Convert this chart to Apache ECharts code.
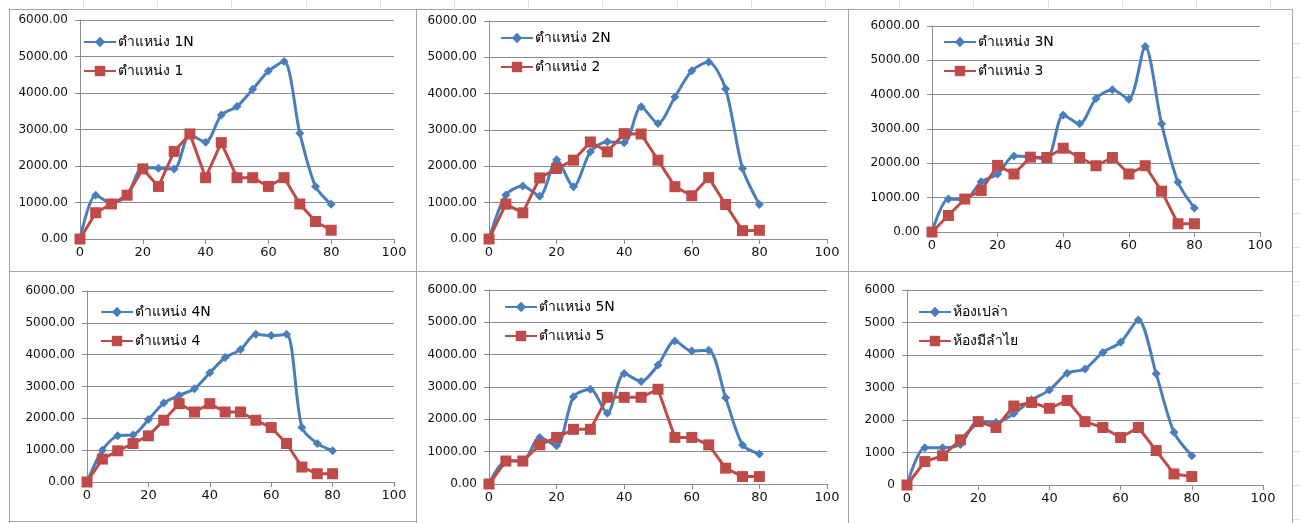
<!DOCTYPE html>
<html>
<head>
<meta charset="utf-8">
<title>ตำแหน่ง 1-5</title>
<script src="https://cdn.jsdelivr.net/npm/echarts@6/dist/echarts.min.js"></script>
<style>
  html, body { margin: 0; padding: 0; background: #fff; }
  #chart { width: 1300px; height: 523px; }
</style>
</head>
<body>
<div id="chart"></div>
<script>
// x positions (same for all six panels)
const xValues = [0, 5, 10, 15, 20, 25, 30, 35, 40, 45, 50, 55, 60, 65, 70, 75, 80];

// panel 1
const pos1N = [0, 1200, 980, 1200, 1960, 1940, 1920, 2860, 2650, 3400, 3630, 4100, 4600, 4860, 2900, 1440, 950];
const pos1 = [0, 720, 960, 1200, 1920, 1440, 2400, 2880, 1680, 2640, 1680, 1680, 1440, 1680, 960, 480, 240];
// panel 2
const pos2N = [0, 1210, 1460, 1180, 2180, 1440, 2400, 2680, 2650, 3640, 3180, 3910, 4630, 4870, 4130, 1940, 950];
const pos2 = [0, 960, 720, 1680, 1940, 2170, 2670, 2400, 2900, 2890, 2170, 1440, 1190, 1690, 950, 230, 240];
// panel 3
const pos3N = [0, 960, 940, 1460, 1690, 2210, 2180, 2130, 3410, 3150, 3890, 4140, 3870, 5400, 3150, 1450, 700];
const pos3 = [0, 480, 960, 1210, 1940, 1690, 2180, 2170, 2440, 2170, 1930, 2170, 1690, 1930, 1190, 240, 240];
// panel 4
const pos4N = [0, 1000, 1450, 1480, 1960, 2480, 2720, 2930, 3430, 3910, 4160, 4640, 4600, 4640, 1710, 1210, 980];
const pos4 = [0, 720, 980, 1210, 1450, 1940, 2460, 2200, 2460, 2200, 2200, 1940, 1710, 1210, 470, 260, 260];
// panel 5
const pos5N = [0, 720, 720, 1440, 1180, 2700, 2930, 2190, 3420, 3170, 3680, 4420, 4110, 4140, 2670, 1210, 930];
const pos5 = [0, 710, 710, 1210, 1440, 1690, 1690, 2680, 2680, 2680, 2930, 1440, 1440, 1210, 490, 230, 230];
// panel 6
const emptyRoom = [0, 1150, 1150, 1250, 1970, 1920, 2200, 2620, 2920, 3440, 3570, 4080, 4390, 5080, 3420, 1620, 900];
const longanRoom = [0, 720, 900, 1390, 1950, 1770, 2430, 2540, 2360, 2600, 1950, 1770, 1460, 1770, 1060, 340, 260];

const blueNames = ['ตำแหน่ง 1N', 'ตำแหน่ง 2N', 'ตำแหน่ง 3N', 'ตำแหน่ง 4N', 'ตำแหน่ง 5N', 'ห้องเปล่า'];
const redNames = ['ตำแหน่ง 1', 'ตำแหน่ง 2', 'ตำแหน่ง 3', 'ตำแหน่ง 4', 'ตำแหน่ง 5', 'ห้องมีลำไย'];
const blueData = [pos1N, pos2N, pos3N, pos4N, pos5N, emptyRoom];
const redData = [pos1, pos2, pos3, pos4, pos5, longanRoom];

const xTicks = { min: 0, max: 100, interval: 20 };
const yTicks = { min: 0, max: 6000, interval: 1000 };

// plot area boxes and legend positions
const panels = [
  { grid: { left: 80, top: 20, width: 314, height: 219 }, legend: { left: 83, top: 35 }, decimals: true },
  { grid: { left: 489, top: 21, width: 338, height: 218 }, legend: { left: 500, top: 31 }, decimals: true },
  { grid: { left: 932, top: 26, width: 328, height: 206 }, legend: { left: 943, top: 35 }, decimals: true },
  { grid: { left: 87, top: 291, width: 307, height: 191 }, legend: { left: 100, top: 305 }, decimals: true },
  { grid: { left: 489, top: 290, width: 338, height: 194 }, legend: { left: 504, top: 300 }, decimals: true },
  { grid: { left: 907, top: 290, width: 356, height: 195 }, legend: { left: 918, top: 305 }, decimals: false }
];

const BLUE = '#4a7ebb';
const RED = '#be4b48';
const GRID_LINE = '#8c8c8c';
const NUM_FONT = '"DejaVu Sans", Verdana, sans-serif';
const FONT = 'Tahoma, "DejaVu Sans", "Noto Sans", sans-serif';

const grids = [], xAxes = [], yAxes = [], series = [], legends = [];

panels.forEach((p, i) => {
  grids.push(Object.assign({ containLabel: false }, p.grid));

  xAxes.push({
    type: 'value',
    gridIndex: i,
    min: xTicks.min,
    max: xTicks.max,
    interval: xTicks.interval,
    axisLine: { show: true, lineStyle: { color: GRID_LINE, width: 1 } },
    axisTick: { show: true, length: 5, lineStyle: { color: GRID_LINE } },
    splitLine: { show: false },
    axisLabel: { color: '#111', fontSize: 13, fontFamily: NUM_FONT, margin: 7 }
  });

  yAxes.push({
    type: 'value',
    gridIndex: i,
    min: yTicks.min,
    max: yTicks.max,
    interval: yTicks.interval,
    axisLine: { show: true, lineStyle: { color: GRID_LINE, width: 1 } },
    axisTick: { show: true, length: 5, lineStyle: { color: GRID_LINE } },
    splitLine: { show: true, lineStyle: { color: GRID_LINE, width: 1 } },
    axisLabel: {
      color: '#111',
      fontSize: 12,
      fontFamily: NUM_FONT,
      margin: 12,
      formatter: p.decimals ? (v => v.toFixed(2)) : (v => String(v))
    }
  });

  series.push({
    name: blueNames[i],
    type: 'line',
    xAxisIndex: i,
    yAxisIndex: i,
    smooth: 0.28,
    symbol: 'diamond',
    symbolSize: 9,
    lineStyle: { color: BLUE, width: 3 },
    itemStyle: { color: BLUE },
    data: xValues.map((x, k) => [x, blueData[i][k]]),
    animation: false
  });

  series.push({
    name: redNames[i],
    type: 'line',
    xAxisIndex: i,
    yAxisIndex: i,
    symbol: 'rect',
    symbolSize: 11,
    lineStyle: { color: RED, width: 3 },
    itemStyle: { color: RED },
    data: xValues.map((x, k) => [x, redData[i][k]]),
    animation: false
  });

  legends.push({
    data: [blueNames[i], redNames[i]],
    orient: 'vertical',
    left: p.legend.left,
    top: p.legend.top,
    padding: 0,
    itemWidth: 32,
    itemHeight: 13,
    itemGap: 15,
    selectedMode: false,
    textStyle: { color: '#000', fontSize: 14, fontFamily: FONT, padding: [0, 0, 0, -3] }
  });
});

// spreadsheet frame lines around the six chart objects
const FRAME = '#a6a6a6';
const CELL = '#dde1e6';
const graphics = [];
function addLine(x1, y1, x2, y2, color, w) {
  graphics.push({
    type: 'line',
    shape: { x1: x1, y1: y1, x2: x2, y2: y2 },
    style: { stroke: color, lineWidth: w || 1 },
    silent: true,
    z: 0
  });
}
// cell gridlines peeking above the charts
for (let x = 83; x < 1292; x += 74.2) {
  addLine(Math.round(x) + 0.5, 0, Math.round(x) + 0.5, 8, CELL, 1);
}
for (let y = 43; y < 523; y += 34) {
  addLine(1293, y + 0.5, 1300, y + 0.5, CELL, 1);
}
addLine(9, 9.5, 1292, 9.5, FRAME, 1);
addLine(9, 271.5, 1292, 271.5, FRAME, 1);
addLine(9, 521.5, 416, 521.5, FRAME, 1);
addLine(9.5, 9, 9.5, 523, FRAME, 1);
addLine(416.5, 9, 416.5, 523, FRAME, 1);
addLine(848.5, 9, 848.5, 523, FRAME, 1);
addLine(1292.5, 9, 1292.5, 523, FRAME, 1);

const chart = echarts.init(document.getElementById('chart'));
chart.setOption({
  backgroundColor: '#ffffff',
  animation: false,
  grid: grids,
  xAxis: xAxes,
  yAxis: yAxes,
  legend: legends,
  series: series,
  graphic: graphics
});
</script>
</body>
</html>
